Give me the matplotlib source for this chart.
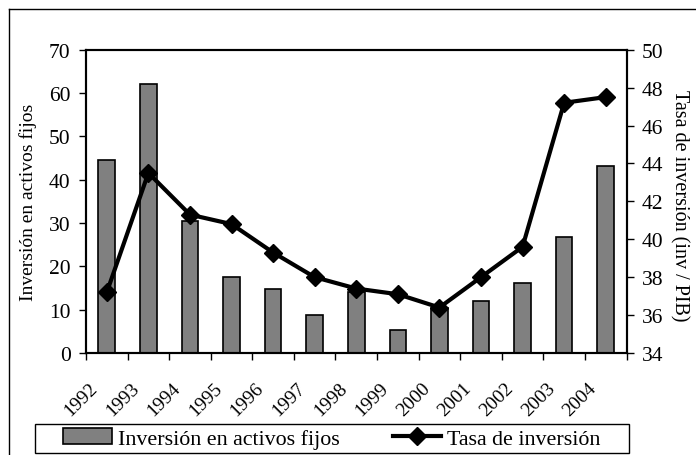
import numpy as np
import matplotlib.pyplot as plt
from matplotlib.lines import Line2D
from matplotlib.patches import Rectangle
from matplotlib.transforms import ScaledTranslation

plt.rcParams['font.family'] = ['Liberation Serif', 'DejaVu Serif']

years = ['1992', '1993', '1994', '1995', '1996', '1997', '1998',
         '1999', '2000', '2001', '2002', '2003', '2004']
inversion = [44.5, 62.0, 30.5, 17.5, 14.8, 8.8, 14.0,
             5.2, 10.3, 12.1, 16.1, 26.8, 43.1]
tasa = [37.2, 43.5, 41.3, 40.8, 39.3, 38.0, 37.4,
        37.1, 36.4, 38.0, 39.6, 47.2, 47.5]

W, H = 696, 456
fig = plt.figure(figsize=(W / 100, H / 100), dpi=100)
ax = fig.add_axes([86 / W, 1 - 354 / H, 540.5 / W, 303.3 / H])
ax2 = ax.twinx()

x = np.arange(len(years))
ax.bar(x, inversion, width=0.4, color='#808080', edgecolor='black',
       linewidth=1.2, zorder=2, label='Inversión en activos fijos')
ax2.plot(x, tasa, color='black', lw=3, marker='D', markersize=9,
         label='Tasa de inversión', zorder=3)

ax.set_xlim(-0.5, len(years) - 0.5)
ax.set_ylim(0, 70)
ax.set_yticks(range(0, 71, 10))
ax2.set_ylim(34, 50)
ax2.set_yticks(range(34, 51, 2))

# ticks at category boundaries, labels at centers
ax.set_xticks(np.arange(-0.5, len(years), 1))
ax.set_xticklabels([])
ax.set_xticks(x, minor=True)
ax.set_xticklabels(years, minor=True, rotation=45, ha='right', va='top')
ax.tick_params(axis='x', which='major', direction='out', length=5, width=1)
ax.tick_params(axis='x', which='minor', length=0, pad=19, labelsize=14)
off = ScaledTranslation(-6 / 100, 0, fig.dpi_scale_trans)
for lab in ax.get_xticklabels(minor=True):
    lab.set_transform(lab.get_transform() + off)

ax.tick_params(axis='y', direction='out', length=5, width=1, pad=6, labelsize=15.5)
ax2.tick_params(axis='y', direction='out', length=5, width=1, pad=6, labelsize=15.5)

for a in (ax, ax2):
    for s in a.spines.values():
        s.set_linewidth(1.5)

ax.set_ylabel('Inversión en activos fijos', fontsize=14)
ax.yaxis.set_label_coords(-0.0907, 0.5)
fig.text(679.5 / W, 1 - 206 / H, 'Tasa de inversión (inv / PIB)',
         rotation=270, ha='center', va='center', fontsize=14.5)

# legend below the plot
h1, l1 = ax.get_legend_handles_labels()
h2, l2 = ax2.get_legend_handles_labels()
fig.legend(h1 + h2, l1 + l2, loc='center', ncol=2, frameon=False,
           bbox_to_anchor=(332 / W, 1 - 439.5 / H), fontsize=15.8,
           handlelength=2.2, handletextpad=0.3, columnspacing=2.4)
fig.add_artist(Rectangle((35 / W, 1 - 454 / H), 594 / W, 29 / H,
                         transform=fig.transFigure, fill=False,
                         edgecolor='black', lw=1))

# outer chart frame
fig.add_artist(Line2D([9 / W, 9 / W], [0, 1 - 10 / H], color='black', lw=1))
fig.add_artist(Line2D([9 / W, 1], [1 - 10 / H, 1 - 10 / H], color='black', lw=1))

fig.savefig('out.png', dpi=100)
